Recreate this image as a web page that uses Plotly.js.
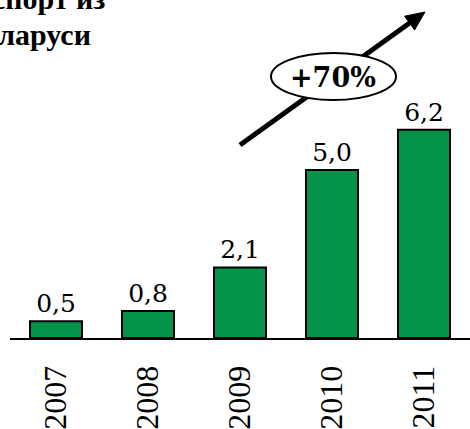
<!DOCTYPE html>
<html>
<head>
<meta charset="utf-8">
<script src="https://cdn.plot.ly/plotly-3.0.1.min.js"></script>
<style>
  html, body { margin: 0; padding: 0; background: #ffffff; }
  #chart { width: 470px; height: 429px; }
</style>
</head>
<body>
<div id="chart"></div>
<script>
// ---- data ----
const years = ['2007', '2008', '2009', '2010', '2011'];
const exportValues = [0.5, 0.8, 2.1, 5.0, 6.2];
const titleLines = ['Экспорт из', 'Беларуси'];
const growthLabel = '+70%';

// ---- fonts ----
const SERIF_A = '"DejaVu Serif", "Noto Serif", Georgia, serif';
const SERIF_B = '"Liberation Serif", "Times New Roman", Times, serif';

// ---- layout helpers (pixel -> paper for decorations) ----
const W = 470, H = 429;
const M = { l: 10, r: 0, t: 0, b: 91 };
const PW = W - M.l - M.r, PH = H - M.t - M.b;
const px = x => (x - M.l) / PW;
const py = y => (PH + M.t - y) / PH;

// arrow geometry (decoration)
const tail = [240, 145], tip = [425, 12];
const dx = tip[0] - tail[0], dy = tip[1] - tail[1];
const len = Math.hypot(dx, dy);
const ux = dx / len, uy = dy / len, nx = -uy, ny = ux;
const headLen = 19, headHalf = 8.5;
const base = [tip[0] - headLen * ux, tip[1] - headLen * uy];
const c1 = [base[0] + headHalf * nx, base[1] + headHalf * ny];
const c2 = [base[0] - headHalf * nx, base[1] - headHalf * ny];

const green = '#03944a';

const trace = {
  type: 'bar',
  x: years,
  y: exportValues,
  marker: { color: green, line: { color: '#000000', width: 2 } },
  texttemplate: '%{y:.1f}',
  textposition: 'outside',
  cliponaxis: false,
  constraintext: 'none',
  textfont: { family: SERIF_A, size: 25, color: '#000000' },
  hoverinfo: 'skip'
};

const layout = {
  width: W, height: H,
  margin: M,
  paper_bgcolor: '#ffffff',
  plot_bgcolor: '#ffffff',
  separators: ', ',
  showlegend: false,
  bargap: 0.435,
  xaxis: {
    type: 'category',
    range: [-0.5, 4.5],
    showline: true, linecolor: '#000000', linewidth: 2,
    ticks: '', showgrid: false, zeroline: false,
    tickangle: -90,
    ticklabelstandoff: 13,
    tickfont: { family: SERIF_B, size: 32, color: '#000000' },
    fixedrange: true
  },
  yaxis: {
    visible: false,
    range: [0, PH / 33.6],
    fixedrange: true
  },
  shapes: [
    { type: 'line', xref: 'paper', yref: 'paper', layer: 'above',
      x0: px(tail[0]), y0: py(tail[1]), x1: px(base[0]), y1: py(base[1]),
      line: { color: '#000000', width: 5 } },
    { type: 'path', xref: 'paper', yref: 'paper', layer: 'above',
      path: `M ${px(tip[0])} ${py(tip[1])} L ${px(c1[0])} ${py(c1[1])} L ${px(c2[0])} ${py(c2[1])} Z`,
      fillcolor: '#000000', line: { color: '#000000', width: 1 } },
    { type: 'circle', xref: 'paper', yref: 'paper', layer: 'above',
      x0: px(271), x1: px(396), y0: py(100), y1: py(53),
      fillcolor: '#ffffff', line: { color: '#000000', width: 2 } }
  ],
  annotations: [
    { text: growthLabel, xref: 'paper', yref: 'paper', x: px(333), y: py(77),
      xanchor: 'center', yanchor: 'middle', showarrow: false,
      font: { family: SERIF_A, size: 27, color: '#000000', weight: 'bold' } },
    { text: titleLines[0], xref: 'paper', yref: 'paper', x: px(-47), y: py(17),
      xanchor: 'left', yanchor: 'bottom', align: 'left', showarrow: false,
      font: { family: SERIF_B, size: 30, color: '#000000', weight: 'bold' } },
    { text: titleLines[1], xref: 'paper', yref: 'paper', x: px(-37), y: py(53),
      xanchor: 'left', yanchor: 'bottom', align: 'left', showarrow: false,
      font: { family: SERIF_B, size: 30, color: '#000000', weight: 'bold' } }
  ]
};

Plotly.newPlot('chart', [trace], layout, { displayModeBar: false, staticPlot: true });
</script>
</body>
</html>
